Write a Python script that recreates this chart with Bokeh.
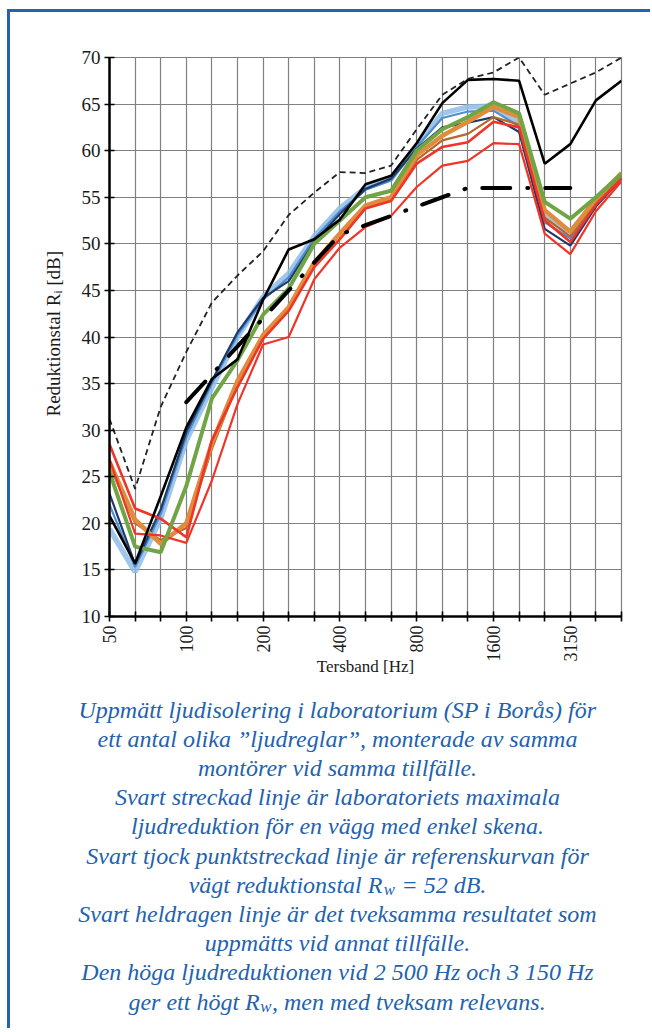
import numpy as np
from bokeh.plotting import figure
from bokeh.layouts import column, row
from bokeh.models import Range1d, FixedTicker
from bokeh.core.properties import value
from bokeh.embed import file_html
from bokeh.resources import INLINE

# ---------------- data ----------------
bands = ["50", "63", "80", "100", "125", "160", "200", "250", "315", "400", "500",
         "630", "800", "1000", "1250", "1600", "2000", "2500", "3150", "4000", "5000"]
shown_labels = ["50", "100", "200", "400", "800", "1600", "3150"]
y_ticks = [10, 15, 20, 25, 30, 35, 40, 45, 50, 55, 60, 65, 70]

light_blue = [19.4, 14.8, 20.5, 28.9, 34.6, 40.0, 44.3, 46.8, 50.8, 53.8, 56.0,
              57.0, 60.6, 64.0, 64.7, 64.8, 62.9, 52.9, 51.3, 54.5, 57.0]
medium_blue = [22.0, 15.3, 21.0, 29.3, 35.0, 40.2, 44.0, 46.4, 50.6, 53.5, 55.8,
               56.8, 60.4, 63.5, 64.2, 64.3, 62.6, 52.3, 50.6, 54.3, 57.2]
navy = [23.2, 15.6, 21.5, 29.8, 35.3, 40.5, 44.2, 46.0, 50.2, 53.2, 55.9,
        57.0, 60.2, 62.5, 63.0, 63.6, 62.0, 51.6, 49.8, 54.0, 57.0]
brown = [26.2, 20.0, 18.2, 19.5, 28.0, 35.0, 40.0, 43.0, 47.8, 51.0, 54.0,
         54.8, 59.0, 61.1, 61.8, 63.6, 62.8, 52.8, 50.8, 54.5, 57.3]
orange = [26.6, 20.4, 17.8, 20.0, 28.6, 35.3, 40.2, 43.2, 48.0, 51.1, 54.1,
          55.0, 59.5, 61.6, 63.1, 64.7, 63.6, 53.6, 51.3, 54.8, 57.6]
red_b = [26.9, 18.9, 18.7, 17.9, 24.6, 32.8, 39.2, 40.0, 46.2, 49.6, 51.8,
         53.0, 56.1, 58.4, 58.9, 60.8, 60.7, 51.1, 48.9, 53.5, 56.7]
red_a = [28.5, 21.6, 20.5, 18.5, 28.9, 34.6, 39.8, 42.8, 47.5, 50.5, 53.8,
         54.6, 58.6, 60.4, 60.9, 63.1, 62.5, 52.5, 50.2, 54.2, 57.0]
green = [25.5, 17.5, 16.9, 24.0, 33.4, 37.5, 42.4, 45.2, 50.0, 52.5, 55.0,
         55.7, 60.0, 62.3, 63.6, 65.2, 64.0, 54.5, 52.7, 55.0, 57.5]
black_other = [20.8, 15.7, 22.9, 30.3, 35.5, 37.6, 44.0, 49.4, 50.5, 52.6, 56.4,
               57.3, 60.8, 65.1, 67.6, 67.7, 67.5, 58.6, 60.7, 65.4, 67.5]
lab_max = [31.2, 23.7, 32.5, 38.4, 43.7, 46.6, 49.2, 53.1, 55.5, 57.7, 57.6,
           58.4, 62.3, 66.0, 67.7, 68.4, 70.0, 66.0, 67.2, 68.4, 70.0]
ref_bands = ["100", "125", "160", "200", "250", "315", "400", "500",
             "630", "800", "1000", "1250", "1600", "2000", "2500", "3150"]
ref_curve = [33, 36, 39, 42, 45, 48, 51, 52, 53, 54, 55, 56, 56, 56, 56, 56]

caption = [
    ("Uppmätt ljudisolering i laboratorium (SP i Borås) för", "", ""),
    ("ett antal olika ”ljudreglar”, monterade av samma", "", ""),
    ("montörer vid samma tillfälle.", "", ""),
    ("Svart streckad linje är laboratoriets maximala", "", ""),
    ("ljudreduktion för en vägg med enkel skena.", "", ""),
    ("Svart tjock punktstreckad linje är referenskurvan för", "", ""),
    ("vägt reduktionstal R", "w", " = 52 dB."),
    ("Svart heldragen linje är det tveksamma resultatet som", "", ""),
    ("uppmätts vid annat tillfälle.", "", ""),
    ("Den höga ljudreduktionen vid 2 500 Hz och 3 150 Hz", "", ""),
    ("ger ett högt R", "w", ", men med tveksam relevans."),
]
y_title = "Reduktionstal Rᵢ [dB]"
x_title = "Tersband [Hz]"

# ---------------- styling constants ----------------
FONT = "Liberation Serif"
BLUE = "#2262ae"
OX, OY = 10, 12            # page position of the content origin (inside the border)
TW, TOP_H = 60, 680        # y-title panel
CW = 580                   # chart panel width
CAP_W, CAP_H = TW + CW, 336

TIMES_I = {" ": 250, "(": 333, ")": 333, ",": 250, ".": 250, "=": 675, "”": 556,
           "0": 500, "1": 500, "2": 500, "3": 500, "4": 500, "5": 500,
           "A": 611, "B": 611, "D": 722, "H": 722, "P": 611, "R": 611, "S": 500, "U": 722,
           "a": 500, "b": 500, "c": 444, "d": 500, "e": 444, "f": 278, "g": 500, "h": 500,
           "i": 278, "j": 278, "k": 444, "l": 278, "m": 722, "n": 500, "o": 500, "p": 500,
           "r": 389, "s": 389, "t": 278, "u": 500, "v": 444, "w": 667, "x": 444, "y": 444,
           "z": 389, "ä": 500, "å": 500, "ö": 500}


def tw(s, size, table):
    return sum(table.get(c, 500) for c in s) / 1000.0 * size


def blank_fig(w, h):
    f = figure(width=w, height=h, output_backend="svg", toolbar_location=None,
               x_range=Range1d(0, w), y_range=Range1d(0, h),
               min_border=0, min_border_left=0, min_border_right=0,
               min_border_top=0, min_border_bottom=0)
    f.axis.visible = False
    f.grid.visible = False
    f.outline_line_color = None
    f.background_fill_color = "white"
    f.border_fill_color = "white"
    return f


# ---------------- chart ----------------
p = figure(width=CW, height=TOP_H, output_backend="svg", toolbar_location=None,
           x_range=Range1d(0, len(bands) - 1), y_range=Range1d(10, 70),
           min_border_left=39, min_border_right=CW - (621 - OX - TW), min_border_top=45,
           min_border_bottom=76)
p.background_fill_color = "white"
p.border_fill_color = "white"
p.outline_line_color = "#808080"
p.outline_line_width = 1.2

xs = list(range(len(bands)))
p.xaxis.ticker = FixedTicker(ticks=xs)
p.xaxis.major_label_overrides = {i: (b if b in shown_labels else "") for i, b in enumerate(bands)}
p.xaxis.major_label_orientation = np.pi / 2
p.yaxis.ticker = FixedTicker(ticks=y_ticks)
for ax in (p.xaxis, p.yaxis):
    ax.axis_line_color = "black"
    ax.axis_line_width = 2.5
    ax.major_tick_line_color = "black"
    ax.major_tick_line_width = 1.6
    ax.major_tick_in = 5
    ax.major_tick_out = 5
    ax.minor_tick_line_color = None
    ax.major_label_text_font = FONT
    ax.major_label_text_color = "#1a1a1a"
    ax.major_label_standoff = 4
p.xaxis.major_label_text_font_size = "18px"
p.yaxis.major_label_text_font_size = "19px"
p.xaxis.axis_label = x_title
p.xaxis.axis_label_text_font = FONT
p.xaxis.axis_label_text_font_style = "normal"
p.xaxis.axis_label_text_font_size = "17px"
p.xaxis.axis_label_text_color = "#1a1a1a"
p.xaxis.axis_label_standoff = -8

p.xgrid.ticker = FixedTicker(ticks=xs)
p.ygrid.ticker = FixedTicker(ticks=y_ticks)
for g in (p.xgrid, p.ygrid):
    g.grid_line_color = "#808080"
    g.grid_line_width = 1.2

p.line(xs, light_blue, line_color="#8fbde6", line_width=5.5, line_alpha=0.85)
p.line(xs, medium_blue, line_color="#4f8fd0", line_width=2.2)
p.line(xs, navy, line_color="#1f3a68", line_width=2.2)
p.line(xs, brown, line_color="#b8672a", line_width=2.2)
p.line(xs, orange, line_color="#df8d3c", line_width=4.5)
p.line(xs, red_b, line_color="#f03528", line_width=2.2)
p.line(xs, red_a, line_color="#f03528", line_width=2.6)
p.line(xs, green, line_color="#6fa544", line_width=4)
p.line(xs, black_other, line_color="black", line_width=2.6)
p.line(xs, lab_max, line_color="#222222", line_width=1.8, line_dash="6 4")
ref_x = [bands.index(b) for b in ref_bands]
p.line(ref_x, ref_curve, line_color="black", line_width=4, line_dash="28 17 1 17",
       line_cap="round")

# ---------------- y title panel ----------------
yt = blank_fig(TW, TOP_H)
yt.text(x=[53 - OX], y=[TOP_H - (348 - OY)], text=[y_title], angle=np.pi / 2,
        text_font=value(FONT), text_font_size=value("19px"), text_color="#1a1a1a",
        text_align="center", text_baseline="middle")

# ---------------- caption panel ----------------
cp = blank_fig(CAP_W, CAP_H)
CAP = 24
top_page = OY + TOP_H
cx = 337 - OX
for i, (a, sub, b) in enumerate(caption):
    base = CAP_H - (709 + 29.2 * i - top_page)
    kw = dict(text_font=value(FONT), text_font_style="italic", text_color=BLUE,
              text_baseline="alphabetic")
    if not sub:
        cp.text(x=[cx], y=[base], text=[a], text_font_size=value("%.1fpx" % CAP),
                text_align="center", **kw)
    else:
        wa = tw(a, CAP, TIMES_I)
        ws = tw(sub, CAP * 0.7, TIMES_I)
        lead = tw(b[:len(b) - len(b.lstrip())], CAP, TIMES_I)
        b2 = b.lstrip()
        wb = tw(b2, CAP, TIMES_I)
        total = wa + ws + lead + wb + 1
        x0 = cx - total / 2
        cp.text(x=[x0], y=[base], text=[a], text_font_size=value("%.1fpx" % CAP),
                text_align="left", **kw)
        cp.text(x=[x0 + wa + 0.5], y=[base - 5], text=[sub],
                text_font_size=value("%.1fpx" % (CAP * 0.7)), text_align="left", **kw)
        cp.text(x=[x0 + wa + ws + lead + 1], y=[base], text=[b2],
                text_font_size=value("%.1fpx" % CAP), text_align="left", **kw)

layout = column(row(yt, p, spacing=0), cp, spacing=0,
                styles={"border-top": "3px solid " + BLUE,
                        "border-left": "3px solid " + BLUE,
                        "margin-left": "7px", "margin-top": "9px"})

open("out.html", "w").write(file_html(layout, INLINE))
